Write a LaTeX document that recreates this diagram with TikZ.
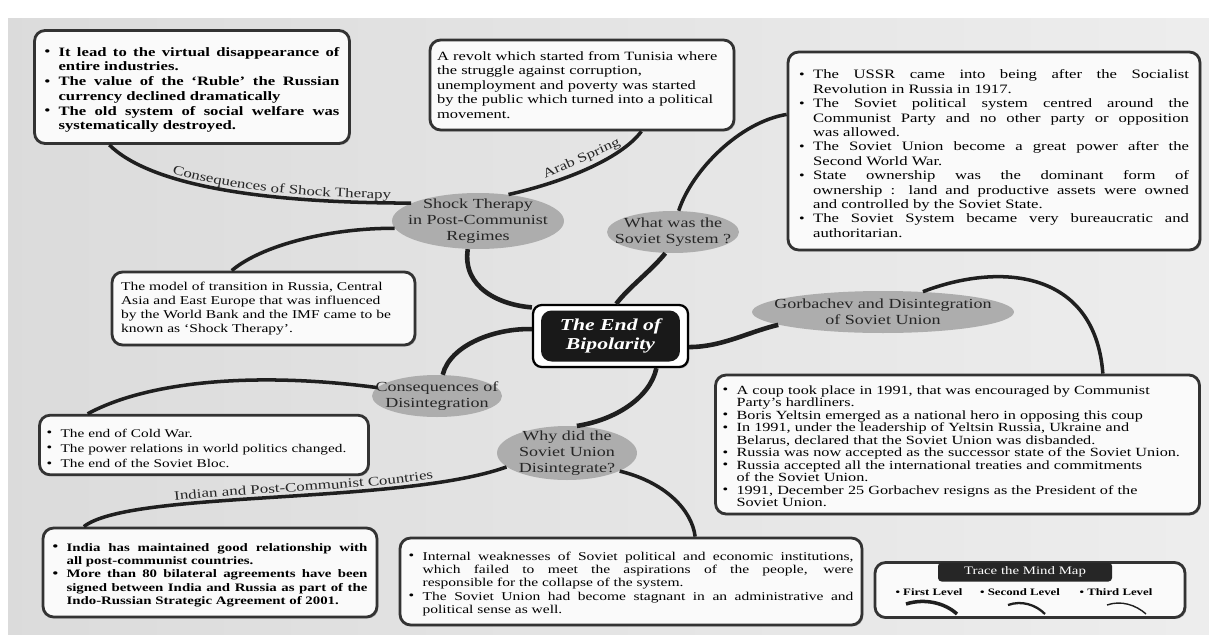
\documentclass[tikz,border=0pt]{standalone}
\usepackage{fontspec}
\setmainfont{Liberation Serif}[FakeStretch=1.3]
\usepackage{tikz}
\usetikzlibrary{positioning}
\usetikzlibrary{shapes.geometric, shadows}
\usetikzlibrary{decorations.text}

\newcommand{\pointer}[1]{\par\noindent\hangindent=8pt\hangafter=1\makebox[8pt][l]{\raisebox{0.1ex}{\scriptsize\textbullet}}#1\par}
\newcommand{\curvefont}{\fontsize{7.4}{8}\selectfont}

\tikzset{
	infobox/.style={draw=black!80, line width=1.6pt, rounded corners=6pt, fill=gray!4, inner sep=4pt,
		drop shadow={shadow xshift=0.8pt, shadow yshift=-0.8pt, opacity=0.45}},
	topic/.style={ellipse, fill=gray!64, inner sep=0pt},
	topiclabel/.style={align=center, inner sep=0pt, text=black!85, font=\fontsize{7.9}{9}\selectfont},
	branch/.style={draw=black!88, line width=2.6pt},
	twig/.style={draw=black!88, line width=2pt},
	curvetext/.style={postaction={decorate, decoration={text along path, raise=2.5pt, text color=black!85, text align={align=center, left indent=#1}}}},
}

\begin{document}
\begin{tikzpicture}[x=0.02cm, y=-0.02cm]
	\useasboundingbox (0,0) rectangle (1209,639);
	\fill[white] (0,0) rectangle (1209,639);
	\shade[left color=gray!28, middle color=gray!8, right color=gray!14] (8,18) rectangle (1209,634);
	
	% hub
	\node[draw=black, line width=1.3pt, fill=white, rounded corners=5pt, minimum width=3.1cm, minimum height=1.24cm,
		drop shadow={shadow xshift=0.8pt, shadow yshift=-0.8pt, opacity=0.4}] at (610.5,336) (hub) {};
	\node[fill=black!90, rounded corners=6pt, minimum width=2.78cm, minimum height=1.02cm, inner sep=0pt, text=white, align=center,
		font=\bfseries\itshape\fontsize{9.5}{11}\selectfont] at (hub.center) (hubcore) {The End of\\Bipolarity};
	
	% topics
	\node[topic, minimum width=3.44cm, minimum height=1.12cm, label={[topiclabel]center:Shock Therapy\\in Post-Communist\\Regimes}] at (478,221) (shockell) {};
	\node[topic, minimum width=2.64cm, minimum height=0.84cm, label={[topiclabel]center:What was the\\Soviet System ?}] at (673,232) (sovell) {};
	\node[topic, minimum width=5.24cm, minimum height=0.84cm, label={[topiclabel]center:Gorbachev and Disintegration\\of Soviet Union}] at (883,312) (gorbell) {};
	\node[topic, minimum width=2.6cm, minimum height=0.84cm, label={[topiclabel]center:Consequences of\\Disintegration}] at (437,396) (consell) {};
	\node[topic, minimum width=2.8cm, minimum height=1.08cm, label={[topiclabel]center:Why did the\\Soviet Union\\Disintegrate?}] at (567,453) (whyell) {};
	
	% boxes
	\node[infobox, minimum width=6.3cm, minimum height=2.26cm, text width=5.9cm, align=justify, font=\bfseries\fontsize{7.3}{8.4}\selectfont] at (192,87) (tlbox) {
		\pointer{It lead to the virtual disappearance of\linebreak entire industries.}
		\pointer{The value of the `Ruble' the Russian\linebreak currency declined dramatically}
		\pointer{The old system of social welfare was\linebreak systematically destroyed.}};
	\node[infobox, minimum width=6.02cm, minimum height=1.8cm, text width=5.8cm, align=left, font=\fontsize{7.2}{8.2}\selectfont] at (582,85) (arabbox) {A revolt which started from Tunisia where\\the struggle against corruption,\\unemployment and poverty was started\\by the public which turned into a political\\movement.};
	\node[infobox, minimum width=8.24cm, minimum height=3.96cm, text width=7.8cm, align=justify, font=\fontsize{7.3}{8.2}\selectfont] at (994,151) (sovbox) {
		\pointer{The USSR came into being after the Socialist\linebreak Revolution in Russia in 1917.}
		\pointer{The Soviet political system centred around the\linebreak Communist Party and no other party or opposition\linebreak was allowed.}
		\pointer{The Soviet Union become a great power after the\linebreak Second World War.}
		\pointer{State ownership was the dominant form of\linebreak ownership : land and productive assets were owned\linebreak and controlled by the Soviet State.}
		\pointer{The Soviet System became very bureaucratic and\linebreak authoritarian.}};
	\node[infobox, minimum width=6.06cm, minimum height=1.46cm, text width=5.7cm, align=left, font=\fontsize{6.8}{7.9}\selectfont] at (263.5,308.5) (stdefbox) {The model of transition in Russia, Central\\Asia and East Europe that was influenced\\by the World Bank and the IMF came to be\\known as `Shock Therapy'.};
	\node[infobox, minimum width=6.56cm, minimum height=1.12cm, text width=6.3cm, align=left, font=\fontsize{6.7}{8.6}\selectfont] at (204,445) (consbox) {
		\pointer{The end of Cold War.}
		\pointer{The power relations in world politics changed.}
		\pointer{The end of the Soviet Bloc.}};
	\node[infobox, minimum width=6.68cm, minimum height=1.78cm, text width=6.3cm, align=justify, font=\bfseries\fontsize{6.5}{7.5}\selectfont] at (210,572.5) (indiabox) {
		\pointer{India has maintained good relationship with\linebreak all post-communist countries.}
		\pointer{More than 80 bilateral agreements have been\linebreak signed between India and Russia as part of the\linebreak Indo-Russian Strategic Agreement of 2001.}};
	\node[infobox, minimum width=9.24cm, minimum height=1.74cm, text width=8.9cm, align=justify, font=\fontsize{6.8}{7.6}\selectfont] at (631,581.5) (whybox) {
		\pointer{Internal weaknesses of Soviet political and economic institutions,\linebreak which failed to meet the aspirations of the people, were\linebreak responsible for the collapse of the system.}
		\pointer{The Soviet Union had become stagnant in an administrative and\linebreak political sense as well.}};
	\node[infobox, minimum width=9.62cm, minimum height=2.74cm, text width=9.4cm, align=left, font=\fontsize{7.1}{7.1}\selectfont] at (957.5,444.5) (gorbbox) {
		\pointer{A coup took place in 1991, that was encouraged by Communist\newline Party's hardliners.}
		\pointer{Boris Yeltsin emerged as a national hero in opposing this coup}
		\pointer{In 1991, under the leadership of Yeltsin Russia, Ukraine and\newline Belarus, declared that the Soviet Union was disbanded.}
		\pointer{Russia was now accepted as the successor state of the Soviet Union.}
		\pointer{Russia accepted all the international treaties and commitments\newline of the Soviet Union.}
		\pointer{1991, December 25 Gorbachev resigns as the President of the\newline Soviet Union.}};
	
	% first level
	\draw[branch] (hub.160) .. controls (500,305) and (462,288) .. (shockell.250);
	\draw[branch] (hub.80) .. controls (628,288) and (652,270) .. (sovell.250);
	\draw[branch] (hub.-8) .. controls (722,347) and (748,332) .. (gorbell.187);
	\draw[branch] (hub.175) .. controls (495,328) and (450,345) .. (consell.75);
	\draw[branch] (hub.-35) .. controls (650,398) and (615,420) .. (whyell.70);
	
	% second level
	\draw[twig, curvetext=1cm, decoration={text={|\curvefont|Consequences of Shock Therapy}}] (tlbox.215) .. controls (150,185) and (260,203) .. (shockell.165);
	\draw[twig] (shockell.41) .. controls (560,183) and (620,160) .. (arabbox.-38) node[pos=0.5, sloped, above, inner sep=2pt, font=\curvefont, text=black!85] (arablbl) {Arab Spring};
	\draw[twig] (stdefbox.130) .. controls (262,245) and (330,228) .. (shockell.185);
	\draw[twig] (consbox.165) .. controls (150,380) and (260,372) .. (consell.172);
	\draw[twig, curvetext=0.4cm, decoration={text={|\curvefont|Indian and Post-Communist Countries}}] (indiabox.160) .. controls (130,490) and (400,505) .. (whyell.193);
	\draw[twig] (whyell.-19) .. controls (665,482) and (692,510) .. (whybox.35);
	\draw[twig] (gorbell.27) .. controls (1000,262) and (1095,270) .. (gorbbox.26.5);
	\draw[twig] (sovell.75) .. controls (692,170) and (740,122) .. (sovbox.170);
	
	% legend
	\node[infobox, minimum width=6.2cm, minimum height=1.1cm] at (1030,590) (tracebox) {};
	\node[fill=black!85, text=white, rounded corners=2pt, minimum width=3.48cm, minimum height=0.38cm, inner sep=1pt, font=\fontsize{6.5}{7}\selectfont] at (1025,572) (tracehead) {Trace the Mind Map};
	\node[font=\bfseries\fontsize{5.6}{6}\selectfont] at (929,592) (firstlvl) {\textbullet\ First Level};
	\node[font=\bfseries\fontsize{5.6}{6}\selectfont] at (1020,592) (secondlvl) {\textbullet\ Second Level};
	\node[font=\bfseries\fontsize{5.6}{6}\selectfont] at (1116,592) (thirdlvl) {\textbullet\ Third Level};
	\draw[black!88, line width=2pt] (906,604) .. controls (925,598) and (945,603) .. (957,614);
	\draw[black!88, line width=1.3pt] (1008,605) .. controls (1022,600) and (1036,605) .. (1045,614);
	\draw[black!88, line width=0.8pt] (1107,605) .. controls (1121,600) and (1136,605) .. (1146,614);
\end{tikzpicture}
\end{document}
